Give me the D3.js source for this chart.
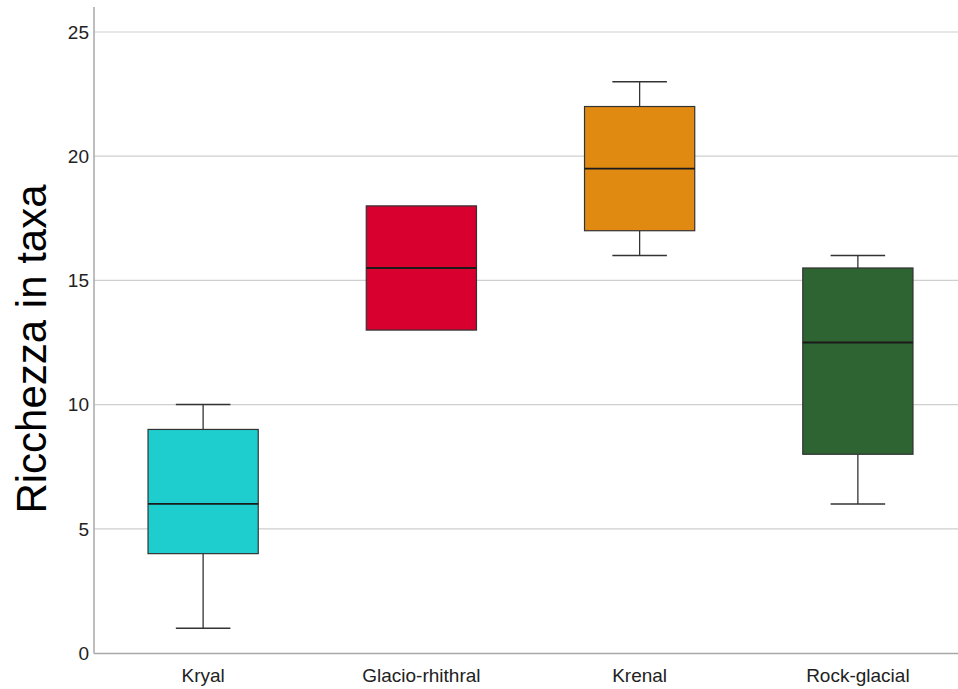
<!DOCTYPE html>
<html><head><meta charset="utf-8">
<script src="https://cdn.jsdelivr.net/npm/d3@7"></script>
<style>body{margin:0;background:#fff}svg{display:block}</style>
</head><body>
<svg id="c" width="958" height="689"></svg>
<script>
const categories = ["Kryal","Glacio-rhithral","Krenal","Rock-glacial"];
const mins    = [1, 13, 16, 6];
const q1s     = [4, 13, 17, 8];
const medians = [6, 15.5, 19.5, 12.5];
const q3s     = [9, 18, 22, 15.5];
const maxs    = [10, 18, 23, 16];
const colors  = ["#1ecece","#d7002f","#e08a12","#2e6332"];
const yTicks  = [0,5,10,15,20,25];

const svg = d3.select("#c");
const x = d3.scaleBand().domain(categories).range([94, 967]);
const y = d3.scaleLinear().domain([0,25]).range([653, 32]);
const font = "Liberation Sans, Arial, sans-serif";

// gridlines
svg.append("g").selectAll("line").data(yTicks.slice(1)).join("line")
  .attr("x1",94).attr("x2",958).attr("y1",d=>y(d)).attr("y2",d=>y(d))
  .attr("stroke","#cfcfcf").attr("stroke-width",1.2);

// axes lines
svg.append("line").attr("x1",94).attr("x2",94).attr("y1",7).attr("y2",653.5)
  .attr("stroke","#a8a8a8").attr("stroke-width",1.5);
svg.append("line").attr("x1",94).attr("x2",958).attr("y1",653.5).attr("y2",653.5)
  .attr("stroke","#a8a8a8").attr("stroke-width",1.5);

// y tick labels
svg.append("g").selectAll("text").data(yTicks).join("text")
  .attr("x",89).attr("y",d=>y(d)).attr("dy","0.36em").attr("text-anchor","end")
  .attr("font-family",font).attr("font-size",19).attr("fill","#222").text(d=>d);

// x labels
svg.append("g").selectAll("text").data(categories).join("text")
  .attr("x",d=>x(d)+x.bandwidth()/2).attr("y",682).attr("text-anchor","middle")
  .attr("font-family",font).attr("font-size",19).attr("fill","#222").text(d=>d);

// y title
svg.append("text").attr("transform","translate(46,349) rotate(-90)")
  .attr("text-anchor","middle").attr("font-family",font).attr("font-size",42)
  .attr("fill","#000").text("Ricchezza in taxa");

const bw = x.bandwidth();
const boxW = bw*0.505, capW = bw*0.25;
const g = svg.append("g").selectAll("g").data(categories).join("g");
g.each(function(c,i){
  const s = d3.select(this);
  const cx = x(c)+bw/2;
  const st = "#333";
  // whiskers
  s.append("line").attr("x1",cx).attr("x2",cx).attr("y1",y(maxs[i])).attr("y2",y(q3s[i])).attr("stroke",st).attr("stroke-width",1.3);
  s.append("line").attr("x1",cx).attr("x2",cx).attr("y1",y(q1s[i])).attr("y2",y(mins[i])).attr("stroke",st).attr("stroke-width",1.3);
  // box
  s.append("rect").attr("x",cx-boxW/2).attr("width",boxW)
    .attr("y",y(q3s[i])).attr("height",y(q1s[i])-y(q3s[i]))
    .attr("fill",colors[i]).attr("stroke",st).attr("stroke-width",1.2);
  // caps
  if (maxs[i]!==q3s[i]) s.append("line").attr("x1",cx-capW/2).attr("x2",cx+capW/2).attr("y1",y(maxs[i])).attr("y2",y(maxs[i])).attr("stroke",st).attr("stroke-width",1.5);
  if (mins[i]!==q1s[i]) s.append("line").attr("x1",cx-capW/2).attr("x2",cx+capW/2).attr("y1",y(mins[i])).attr("y2",y(mins[i])).attr("stroke",st).attr("stroke-width",1.5);
  // median
  s.append("line").attr("x1",cx-boxW/2).attr("x2",cx+boxW/2).attr("y1",y(medians[i])).attr("y2",y(medians[i]))
    .attr("stroke","#1a1a1a").attr("stroke-width",1.8);
});
</script>
</body></html>
